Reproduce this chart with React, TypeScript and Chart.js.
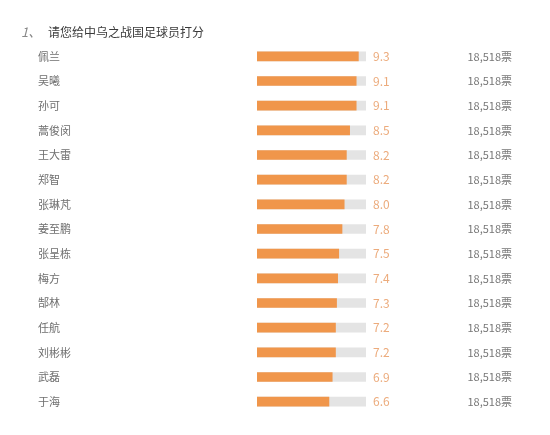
import React, { useEffect, useRef } from "react";
import { Chart, registerables } from "chart.js";

Chart.register(...registerables);

const questionNo = "1、";
const questionTitle = "请您给中乌之战国足球员打分";
const players = ["佩兰", "吴曦", "孙可", "蒿俊闵", "王大雷", "郑智", "张琳芃", "姜至鹏", "张呈栋", "梅方", "郜林", "任航", "刘彬彬", "武磊", "于海"];
const scores = [9.3, 9.1, 9.1, 8.5, 8.2, 8.2, 8.0, 7.8, 7.5, 7.4, 7.3, 7.2, 7.2, 6.9, 6.6];
const votes = [18518, 18518, 18518, 18518, 18518, 18518, 18518, 18518, 18518, 18518, 18518, 18518, 18518, 18518, 18518];
const maxScore = 10;
const voteUnit = "票";

const FONT = '"Noto Sans CJK SC", "Noto Sans", sans-serif';

const overlayPlugin = {
  id: "overlay",
  afterDraw(chart: any) {
    const ctx = chart.ctx;
    const x = chart.scales.x;
    const y = chart.scales.y;
    ctx.save();
    ctx.textBaseline = "middle";
    // header
    ctx.font = `italic 13px ${FONT}`;
    ctx.fillStyle = "#888";
    ctx.textAlign = "left";
    ctx.fillText(questionNo, 21, 32);
    ctx.font = `12px ${FONT}`;
    ctx.fillStyle = "#3a3a3a";
    ctx.fillText(questionTitle, 48, 32);
    // value labels and votes
    const valueX = x.getPixelForValue(maxScore) + 7;
    scores.forEach((s, i) => {
      const py = y.getPixelForValue(i);
      ctx.font = `12px ${FONT}`;
      ctx.fillStyle = "#ecab7c";
      ctx.textAlign = "left";
      ctx.fillText(s.toFixed(1), valueX, py);
      ctx.font = `11px ${FONT}`;
      ctx.fillStyle = "#777";
      ctx.textAlign = "right";
      ctx.fillText(votes[i].toLocaleString("en-US") + voteUnit, 512, py);
    });
    ctx.restore();
  },
};

export default function App() {
  const ref = useRef<HTMLCanvasElement>(null);
  useEffect(() => {
    document.body.style.margin = "0";
    const chart = new Chart(ref.current as HTMLCanvasElement, {
      type: "bar",
      data: {
        labels: players,
        datasets: [
          {
            data: scores,
            backgroundColor: "#f0964b",
            barThickness: 9,
            grouped: false,
          },
          {
            data: players.map(() => maxScore),
            backgroundColor: "#e4e4e4",
            barThickness: 9,
            grouped: false,
          },
        ],
      },
      options: {
        indexAxis: "y",
        animation: false,
        responsive: false,
        events: [],
        layout: { padding: { left: 38, right: 184, top: 44, bottom: 21 } },
        plugins: { legend: { display: false }, tooltip: { enabled: false }, title: { display: false } },
        scales: {
          x: { display: false, min: 0, max: maxScore },
          y: {
            grid: { display: false },
            border: { display: false },
            afterFit: (scale: any) => {
              scale.width = 219;
            },
            ticks: {
              autoSkip: false,
              crossAlign: "far",
              color: "#6f6f6f",
              font: { family: FONT, size: 11 },
            },
          },
        },
      },
      plugins: [overlayPlugin],
    });
    return () => chart.destroy();
  }, []);
  return (
    <div style={{ width: 550, height: 435, background: "#fff" }}>
      <canvas ref={ref} width={550} height={435} style={{ display: "block" }} />
    </div>
  );
}
